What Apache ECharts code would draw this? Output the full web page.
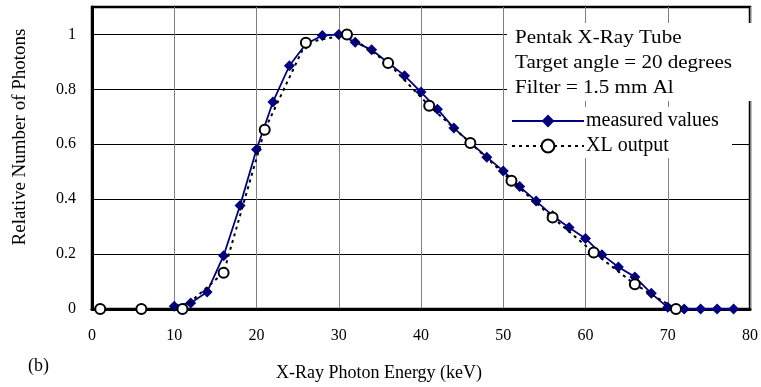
<!DOCTYPE html>
<html>
<head>
<meta charset="utf-8">
<script src="https://cdn.jsdelivr.net/npm/echarts@6/dist/echarts.min.js"></script>
<style>
    html, body { margin: 0; padding: 0; background: #fff; }
    #chart { width: 761px; height: 387px; }
</style>
</head>
<body>
<div id="chart"></div>
<script>
// measured spectrum (keV, relative photons)
var measuredEnergy = [10, 12, 14, 16, 18, 20, 22, 24, 26, 28, 30, 32, 34, 36, 38, 40, 42, 44, 46, 48,
    50, 52, 54, 56, 58, 60, 62, 64, 66, 68, 70, 72, 74, 76, 78]
var measuredValues = [0.01, 0.022, 0.062, 0.194, 0.377, 0.581, 0.754, 0.886, 0.965, 0.996, 1.0, 0.972,
    0.944, 0.897, 0.85, 0.79, 0.728, 0.659, 0.606, 0.553, 0.503, 0.446, 0.393, 0.34, 0.297, 0.257,
    0.198, 0.153, 0.117, 0.057, 0.006, 0, 0, 0, 0]

// XL output
var xlEnergy = [1, 6, 11, 16, 21, 26, 31, 36, 41, 46, 51, 56, 61, 66, 71]
var xlValues = [0, 0, 0, 0.132, 0.653, 0.97, 1.0, 0.896, 0.74, 0.605, 0.467, 0.333, 0.206, 0.09, 0]

var noteLines = ['Pentak X-Ray Tube', 'Target angle = 20 degrees', 'Filter = 1.5 mm Al']

var serif = '"Liberation Serif", "Times New Roman", serif'

function pairs(xs, ys) {
    var out = []
    for (let i = 0; i < xs.length; i++) {
        out.push([xs[i], ys[i]])
    }
    return out
}

var myChart = echarts.init(document.getElementById('chart'))

var graphics = [
    // white boxes behind the note and the legend
    { type: 'rect', z: 3, shape: { x: 507, y: 23, width: 245, height: 78 }, style: { fill: '#fff' } },
    { type: 'rect', z: 3, shape: { x: 507, y: 107, width: 225, height: 51 }, style: { fill: '#fff' } },
    {
        type: 'text', z: 5, left: 28, top: 357,
        style: { text: '(b)', font: '18px ' + serif, fill: '#000' }
    }
]
for (let i = 0; i < noteLines.length; i++) {
    graphics.push({
        type: 'text', z: 5, x: 515, y: 38 + i * 25, scaleX: 1.17,
        style: {
            text: noteLines[i], font: '18px ' + serif, fill: '#000',
            textVerticalAlign: 'middle', verticalAlign: 'middle'
        }
    })
}

var option = {
    animation: false,
    grid: {
        left: 92, right: 7, top: 7, bottom: 74,
        show: true, borderColor: '#000', borderWidth: 2.5, backgroundColor: 'transparent'
    },
    legend: {
        orient: 'vertical',
        left: 511, top: 111,
        padding: 0,
        itemWidth: 72, itemHeight: 16, itemGap: 5,
        data: ['measured values', 'XL output'],
        textStyle: { fontFamily: serif, fontSize: 20, color: '#000', padding: [0, 0, 0, -3] },
        z: 6
    },
    xAxis: {
        type: 'value',
        min: 0, max: 80, interval: 10,
        name: 'X-Ray Photon Energy (keV)',
        nameLocation: 'middle',
        nameGap: 55,
        nameTextStyle: { fontFamily: serif, fontSize: 18, color: '#000', padding: [0, 84, 0, 0] },
        axisLine: { lineStyle: { color: '#000', width: 3 } },
        axisTick: { show: false },
        axisLabel: { fontFamily: serif, fontSize: 16, color: '#000', margin: 19 },
        splitLine: { show: true, lineStyle: { color: '#808080', width: 1 } }
    },
    yAxis: {
        type: 'value',
        min: 0, max: 1.1, interval: 0.2,
        name: 'Relative Number of Photons',
        nameLocation: 'middle',
        nameGap: 62,
        nameTextStyle: { fontFamily: serif, fontSize: 19, color: '#000', padding: [0, 0, 0, 42] },
        axisLine: { show: true, lineStyle: { color: '#000', width: 3 } },
        axisTick: { show: false },
        axisLabel: { fontFamily: serif, fontSize: 16, color: '#000', margin: 16, showMaxLabel: false },
        splitLine: { show: true, lineStyle: { color: '#000', width: 1 } }
    },
    graphic: graphics,
    series: [
        {
            name: 'measured values',
            type: 'line',
            data: pairs(measuredEnergy, measuredValues),
            symbol: 'diamond',
            symbolSize: 11,
            showAllSymbol: true,
            lineStyle: { color: '#000080', width: 1.8 },
            itemStyle: { color: '#000080' },
            z: 2
        },
        {
            name: 'XL output',
            type: 'line',
            data: pairs(xlEnergy, xlValues),
            symbol: 'emptyCircle',
            symbolSize: 10,
            showAllSymbol: true,
            lineStyle: { color: '#000', width: 2, type: [3, 4] },
            itemStyle: { color: '#000', borderColor: '#000', borderWidth: 2 },
            z: 3
        }
    ]
}

myChart.setOption(option)
</script>
</body>
</html>
